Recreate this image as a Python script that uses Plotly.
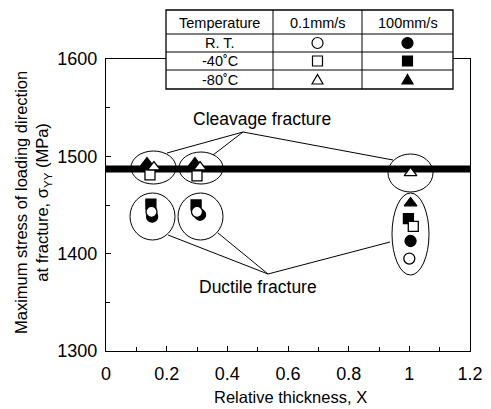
import plotly.graph_objects as go

# ---------------- data ----------------
cleavage_level = 1487  # thick horizontal line (MPa)

# 0.1 mm/s (open symbols)
x_rt_slow = [0.15, 0.30, 1.00]
y_rt_slow = [1443, 1443, 1395]
x_m40_slow = [0.145, 0.30, 1.013]
y_m40_slow = [1481, 1480, 1428]
x_m80_slow = [0.158, 0.31, 1.004]
y_m80_slow = [1489, 1489, 1483]

# 100 mm/s (filled symbols)
x_rt_fast = [0.152, 0.31, 1.004]
y_rt_fast = [1438, 1440, 1413]
x_m40_fast = [0.148, 0.297, 0.997]
y_m40_fast = [1451, 1450, 1436]
x_m80_fast = [0.135, 0.293, 1.004]
y_m80_fast = [1493, 1493, 1452]

x_ticks = [0, 0.2, 0.4, 0.6, 0.8, 1, 1.2]
x_tick_labels = ["0", "0.2", "0.4", "0.6", "0.8", "1", "1.2"]
y_ticks = [1300, 1400, 1500, 1600]

table_header = ["Temperature", "0.1mm/s", "100mm/s"]
table_rows = ["R. T.", "-40˚C", "-80˚C"]

FONT = "Liberation Sans, Arial, Helvetica, sans-serif"

# ---------------- layout geometry (pixels) ----------------
W, H = 491, 409
L, R, T, B = 106, 470, 59, 351
XMAX, YMIN, YMAX = 1.2, 1300, 1600


def PX(px):
    return (px - L) / (R - L)


def PY(py):
    return (B - py) / (B - T)


def DX(px):
    return (px - L) / (R - L) * XMAX


def DY(py):
    return YMAX - (py - T) / (B - T) * (YMAX - YMIN)


fig = go.Figure()

# thick cleavage line
fig.add_trace(go.Scatter(x=[0, XMAX], y=[cleavage_level, cleavage_level], mode="lines",
                         line=dict(color="black", width=7), hoverinfo="skip"))

mk_line = dict(color="black", width=1.3)
series = [
    (x_m80_fast, y_m80_fast, "triangle-up", "black", 11),
    (x_m40_fast, y_m40_fast, "square", "black", 10),
    (x_rt_fast, y_rt_fast, "circle", "black", 11),
    (x_m40_slow, y_m40_slow, "square", "white", 10),
    (x_m80_slow, y_m80_slow, "triangle-up", "white", 11),
    (x_rt_slow, y_rt_slow, "circle", "white", 11),
]
for xs, ys, sym, fill, sz in series:
    fig.add_trace(go.Scatter(x=xs, y=ys, mode="markers",
                             marker=dict(symbol=sym, size=sz, color=fill, line=mk_line)))

shapes = []
# ellipses around groups
ellipses = [
    (131, 151, 176, 184),
    (179, 152, 223, 184),
    (388, 154, 433, 192),
    (130, 193, 175, 240),
    (178, 193, 223, 240),
    (392, 193, 429, 275),
]
for x0, y0, x1, y1 in ellipses:
    shapes.append(dict(type="circle", xref="x", yref="y", x0=DX(x0), x1=DX(x1),
                       y0=DY(y1), y1=DY(y0), line=dict(color="black", width=1)))

# leader lines
cleav_apex = (243, 132)
for ex, ey in [(167, 153), (213, 155), (393, 160)]:
    shapes.append(dict(type="line", xref="x", yref="y", x0=DX(cleav_apex[0]), y0=DY(cleav_apex[1]),
                       x1=DX(ex), y1=DY(ey), line=dict(color="black", width=1)))
duct_apex = (268, 274)
for ex, ey in [(168, 235), (218, 233), (390, 242)]:
    shapes.append(dict(type="line", xref="x", yref="y", x0=DX(duct_apex[0]), y0=DY(duct_apex[1]),
                       x1=DX(ex), y1=DY(ey), line=dict(color="black", width=1)))

# table
cols = [166, 273, 362, 453]
rows = [10, 34, 52, 70, 89]
tx0, tx1, ty0, ty1 = cols[0], cols[-1], rows[0], rows[-1]
shapes.append(dict(type="rect", xref="paper", yref="paper", x0=PX(tx0), x1=PX(tx1),
                   y0=PY(ty1), y1=PY(ty0), fillcolor="white", layer="above",
                   line=dict(color="black", width=1.3)))
for c in cols[1:-1]:
    shapes.append(dict(type="line", xref="paper", yref="paper", x0=PX(c), x1=PX(c),
                       y0=PY(ty1), y1=PY(ty0), layer="above", line=dict(color="black", width=1)))
for r in rows[1:-1]:
    shapes.append(dict(type="line", xref="paper", yref="paper", x0=PX(tx0), x1=PX(tx1),
                       y0=PY(r), y1=PY(r), layer="above", line=dict(color="black", width=1)))

annotations = []
col_c = [(cols[i] + cols[i + 1]) / 2 for i in range(3)]
row_c = [(rows[i] + rows[i + 1]) / 2 for i in range(4)]
tfont = dict(family=FONT, size=14.5, color="black")
for i, h in enumerate(table_header):
    annotations.append(dict(text=h, x=PX(col_c[i]), y=PY(row_c[0] + 1), xref="paper", yref="paper",
                            xanchor="center", yanchor="middle", showarrow=False, font=tfont))
for j, r in enumerate(table_rows):
    annotations.append(dict(text=r, x=PX(col_c[0]), y=PY(row_c[j + 1]), xref="paper", yref="paper",
                            xanchor="center", yanchor="middle", showarrow=False, font=tfont))


def sym_shape(kind, cx, cy, filled, s=5.5):
    fc = "black" if filled else "white"
    ln = dict(color="black", width=1.2)
    if kind == "circle":
        return dict(type="circle", xref="paper", yref="paper", x0=PX(cx - s), x1=PX(cx + s),
                    y0=PY(cy + s), y1=PY(cy - s), fillcolor=fc, line=ln, layer="above")
    if kind == "square":
        return dict(type="rect", xref="paper", yref="paper", x0=PX(cx - s + 0.5), x1=PX(cx + s - 0.5),
                    y0=PY(cy + s - 0.5), y1=PY(cy - s + 0.5), fillcolor=fc, line=ln, layer="above")
    path = "M {},{} L {},{} L {},{} Z".format(PX(cx - s), PY(cy + s - 1), PX(cx + s), PY(cy + s - 1),
                                            PX(cx), PY(cy - s + 0.5))
    return dict(type="path", xref="paper", yref="paper", path=path, fillcolor=fc, line=ln, layer="above")


for j, kind in enumerate(["circle", "square", "triangle"]):
    shapes.append(sym_shape(kind, col_c[1], row_c[j + 1], False))
    shapes.append(sym_shape(kind, col_c[2], row_c[j + 1], True))

# annotation texts
afont = dict(family=FONT, size=17.5, color="black")
annotations.append(dict(text="Cleavage fracture", x=DX(262), y=DY(119), xref="x", yref="y",
                        xanchor="center", yanchor="middle", showarrow=False, font=afont))
annotations.append(dict(text="Ductile fracture", x=DX(258), y=DY(287), xref="x", yref="y",
                        xanchor="center", yanchor="middle", showarrow=False, font=afont))
# y title
annotations.append(dict(text="Maximum stress of loading direction<br>at fracture, σ<sub>YY</sub> (MPa)",
                        x=PX(33), y=PY(203), xref="paper", yref="paper", textangle=-90,
                        xanchor="center", yanchor="middle", showarrow=False,
                        font=dict(family=FONT, size=16.5, color="black")))
# x title
annotations.append(dict(text="Relative thickness, X", x=PX(290), y=PY(397), xref="paper", yref="paper",
                        xanchor="center", yanchor="middle", showarrow=False,
                        font=dict(family=FONT, size=16.5, color="black")))

axis_common = dict(showline=True, linecolor="black", linewidth=1.2, mirror=True,
                   ticks="inside", ticklen=5, tickcolor="black", tickwidth=1,
                   showgrid=False, zeroline=False, automargin=False,
                   tickfont=dict(family=FONT, size=18, color="black"))
fig.update_layout(
    width=W, height=H,
    margin=dict(l=L, r=W - R, t=T, b=H - B, pad=0, autoexpand=False),
    paper_bgcolor="white", plot_bgcolor="white",
    showlegend=False,
    xaxis=dict(range=[0, XMAX], tickvals=x_ticks, ticktext=x_tick_labels,
               minor=dict(dtick=0.1, ticks="inside", ticklen=4, tickcolor="black"),
               ticklabelstandoff=6,
               **axis_common),
    yaxis=dict(range=[YMIN, YMAX], tickvals=y_ticks,
               minor=dict(dtick=50, ticks="inside", ticklen=4, tickcolor="black"),
               ticklabelstandoff=4,
               **axis_common),
    shapes=shapes,
    annotations=annotations,
)

fig.write_html("out.html")
